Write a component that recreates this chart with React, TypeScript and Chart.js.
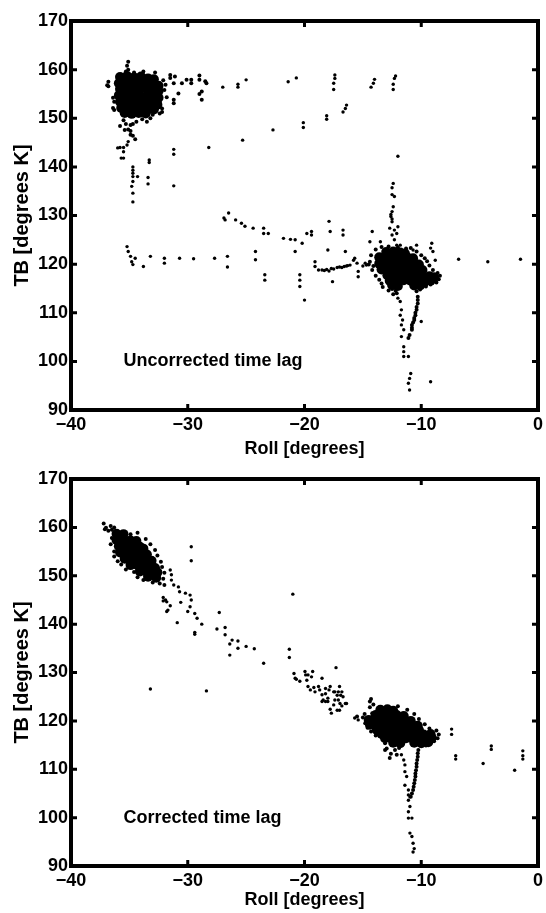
import React, { useEffect, useRef } from 'react';
import { Chart, registerables } from 'chart.js';

Chart.register(...registerables);

type P = [number, number];

// ---------- axes / text ----------
const xTicks = [-40, -30, -20, -10, 0];
const yTicks = [90, 100, 110, 120, 130, 140, 150, 160, 170];
const xTitle = 'Roll [degrees]';
const yTitle = 'TB [degrees K]';
const topLabel = 'Uncorrected time lag';
const bottomLabel = 'Corrected time lag';
const labelAt: P = [-35.5, 100];

// ---------- TOP: uncorrected time lag ----------
const topWarmCore: P[] = [
  [-35.8, 158.5], [-35.2, 158.7], [-34.6, 158.4], [-34.0, 158.6], [-33.4, 158.2], [-32.9, 158.0],
  [-35.9, 157.2], [-35.3, 157.4], [-34.7, 157.1], [-34.1, 157.3], [-33.5, 156.9], [-32.9, 157.1], [-32.5, 156.7],
  [-35.8, 156.0], [-35.2, 156.1], [-34.6, 155.9], [-34.0, 156.1], [-33.4, 155.8], [-32.9, 155.9], [-32.5, 155.6],
  [-35.9, 154.7], [-35.3, 154.8], [-34.7, 154.6], [-34.1, 154.7], [-33.5, 154.5], [-32.9, 154.6], [-32.5, 154.2],
  [-35.8, 153.4], [-35.2, 153.5], [-34.6, 153.3], [-34.0, 153.4], [-33.4, 153.2], [-32.9, 153.1], [-32.6, 152.8],
  [-35.7, 152.1], [-35.1, 152.2], [-34.5, 152.0], [-33.9, 152.1], [-33.3, 151.9], [-32.9, 151.8],
  [-35.4, 151.1], [-34.8, 150.9], [-34.2, 151.1], [-33.6, 151.0],
];
const topColdCore: P[] = [
  [-13.0, 122.5], [-12.4, 122.6], [-11.8, 122.4], [-11.4, 122.2],
  [-13.6, 121.4], [-13.0, 121.5], [-12.4, 121.4], [-11.8, 121.3], [-11.2, 121.4], [-10.7, 121.2],
  [-13.6, 120.1], [-13.0, 120.3], [-12.4, 120.1], [-11.8, 120.2], [-11.2, 120.0], [-10.6, 120.2], [-10.2, 119.9],
  [-13.4, 118.9], [-12.8, 118.8], [-12.2, 119.0], [-11.6, 118.8], [-11.0, 118.9], [-10.4, 118.7], [-9.9, 118.8],
  [-12.9, 117.7], [-12.3, 117.6], [-11.7, 117.8], [-11.1, 117.6], [-10.5, 117.7], [-9.9, 117.6], [-9.3, 117.5], [-8.9, 117.3],
  [-12.7, 116.6], [-12.1, 116.5], [-11.5, 116.7], [-10.9, 116.6], [-10.3, 116.5], [-9.7, 116.4], [-9.2, 116.6],
  [-12.5, 115.7], [-12.0, 115.5], [-10.6, 115.6], [-10.1, 115.6],
];
const topFringe: P[] = [
  [-36.8, 156.6], [-36.9, 156.8], [-36.8, 157.5], [-36.4, 154.2], [-36.3, 153.4], [-36.4, 152.1], [-36.3, 151.7],
  [-35.1, 161.6], [-35.2, 160.8], [-35.1, 160.0], [-35.3, 159.6], [-34.6, 159.4],
  [-33.8, 159.6], [-32.8, 159.4], [-31.5, 158.9], [-31.5, 158.3], [-31.1, 158.6], [-31.2, 157.2], [-30.5, 157.2],
  [-30.1, 157.9], [-29.7, 157.9], [-29.7, 157.2], [-29.0, 158.8], [-29.0, 157.9], [-28.5, 157.6], [-28.4, 157.2],
  [-28.8, 155.5], [-29.0, 155.0], [-28.8, 153.8], [-30.8, 155.1], [-31.2, 153.8], [-31.2, 153.1], [-31.8, 154.3],
  [-32.2, 152.0], [-32.2, 151.3], [-32.0, 155.8], [-31.9, 156.9], [-32.1, 157.8],
  [-35.5, 149.6], [-35.3, 148.8], [-34.9, 148.6], [-34.7, 148.8], [-34.4, 149.3], [-33.9, 149.8], [-33.5, 149.3],
  [-33.2, 150.0], [-32.4, 151.0], [-33.0, 150.7],
  [-35.4, 147.6], [-35.1, 147.7], [-34.9, 147.4], [-34.9, 146.6], [-34.7, 146.4], [-34.5, 145.7], [-35.8, 148.4],
  [-14.3, 121.8], [-14.4, 120.5], [-14.1, 119.6], [-14.5, 119.9], [-14.2, 118.8], [-13.9, 117.6], [-13.6, 116.8],
  [-13.4, 116.0], [-13.3, 115.3], [-13.9, 123.0], [-13.4, 123.5], [-12.8, 123.6], [-12.0, 123.4], [-11.3, 123.2],
  [-10.9, 123.3], [-10.4, 122.6], [-10.0, 121.8], [-9.7, 121.2], [-9.5, 120.6], [-9.3, 119.7], [-9.0, 118.8],
  [-8.6, 118.2], [-8.4, 117.6], [-8.5, 116.9], [-8.7, 116.2], [-9.2, 115.8], [-9.6, 115.4],
  [-12.8, 114.6], [-12.5, 114.9], [-12.2, 114.5], [-12.4, 113.8], [-12.1, 114.0], [-10.4, 114.4], [-10.1, 114.8],
  [-10.3, 113.3], [-10.3, 112.6], [-10.3, 111.9], [-10.4, 111.2], [-10.4, 110.6], [-10.5, 110.0], [-10.5, 109.5],
  [-10.6, 108.9], [-10.6, 108.5], [-10.7, 108.0], [-10.8, 107.5], [-10.8, 106.9], [-10.8, 106.5], [-11.0, 105.4],
  [-11.1, 104.8],
];
const topSparse: P[] = [
  // scatter below warm cluster
  [-35.8, 144.0], [-35.5, 144.0], [-35.5, 143.1], [-35.5, 141.8], [-35.2, 144.5], [-35.1, 145.2], [-36.0, 143.9],
  [-35.7, 141.8], [-34.7, 140.0], [-34.7, 139.3], [-34.7, 138.7], [-34.7, 138.0], [-34.7, 137.0], [-34.3, 138.0],
  [-34.7, 134.6], [-34.7, 132.8], [-34.8, 136.0], [-33.3, 141.4], [-33.3, 140.9], [-33.4, 137.8], [-33.4, 136.5],
  // trail near 157 K
  [-27.0, 156.4], [-25.7, 157.0], [-25.7, 156.4], [-25.0, 157.9], [-21.4, 157.5], [-20.7, 158.3],
  [-17.4, 158.9], [-17.4, 158.2], [-17.5, 157.2], [-17.5, 155.9], [-14.0, 158.0], [-14.3, 156.4], [-14.1, 157.2],
  [-12.2, 158.7], [-12.3, 158.2], [-12.4, 157.0], [-12.4, 155.9],
  // rising trail
  [-16.4, 152.7], [-16.7, 151.3], [-16.5, 152.0], [-18.1, 150.5], [-18.1, 149.8], [-20.1, 149.1], [-20.1, 148.1],
  [-22.7, 147.6], [-25.3, 145.5], [-28.2, 144.0], [-31.2, 143.6], [-31.2, 142.6], [-31.2, 136.1], [-12.0, 142.2],
  // descending trail 130 -> 124
  [-26.9, 129.5], [-26.8, 129.1], [-26.5, 130.5], [-25.9, 129.1], [-25.4, 128.4], [-25.1, 127.8], [-24.4, 127.4],
  [-23.5, 127.4], [-23.5, 126.3], [-23.1, 126.3], [-21.8, 125.3], [-21.2, 125.1], [-20.8, 125.0], [-20.2, 124.3],
  [-19.8, 126.3], [-19.4, 126.7], [-19.4, 126.0], [-17.8, 126.7], [-16.7, 127.0], [-16.7, 126.0], [-17.9, 128.8],
  [-14.2, 126.7], [-14.4, 124.6], [-13.5, 124.6], [-20.8, 122.6], [-18.0, 122.9], [-16.5, 122.6],
  // trail near 121 K
  [-35.2, 123.6], [-35.1, 122.6], [-34.9, 121.6], [-34.8, 120.5], [-34.7, 119.9], [-34.5, 121.2], [-33.8, 119.5],
  [-33.2, 121.6], [-32.0, 121.2], [-32.0, 120.2], [-30.7, 121.2], [-29.5, 121.1], [-27.7, 121.2], [-26.6, 121.6],
  [-26.6, 119.4], [-24.2, 122.6], [-24.2, 120.9], [-23.4, 117.8], [-23.4, 116.7], [-20.4, 117.8], [-20.4, 116.7],
  [-20.4, 115.4], [-17.6, 116.4], [-20.0, 112.6],
  // streak near 119 K
  [-19.1, 120.5], [-19.1, 119.5], [-18.8, 118.8], [-18.5, 118.8], [-18.3, 118.7], [-18.1, 118.9], [-17.9, 118.6],
  [-17.7, 119.1], [-17.5, 119.0], [-17.2, 119.3], [-17.0, 119.4], [-16.8, 119.3], [-16.6, 119.5], [-16.4, 119.6],
  [-16.3, 119.7], [-16.1, 119.8], [-15.8, 120.8], [-15.7, 121.2], [-15.5, 120.2], [-15.4, 118.5], [-15.4, 117.4],
  [-15.0, 119.6], [-14.8, 120.2], [-14.7, 119.8],
  // around cold cluster
  [-9.1, 124.3], [-9.2, 123.3], [-9.0, 122.6], [-8.8, 120.8], [-10.4, 123.9], [-10.7, 122.9], [-11.25, 122.9], [-11.8, 123.9],
  [-12.4, 136.6], [-12.5, 135.7], [-12.5, 134.3], [-12.3, 133.9], [-12.4, 131.8], [-12.5, 130.8], [-12.6, 130.2],
  [-12.6, 129.8], [-12.5, 129.3], [-12.5, 128.7], [-12.0, 127.7], [-12.7, 127.4], [-12.3, 127.0], [-12.1, 126.3],
  [-12.5, 126.0], [-12.3, 125.0], [-12.1, 123.9],
  [-6.8, 121.0], [-4.3, 120.5], [-1.5, 121.0],
  // tail
  [-12.0, 113.0], [-11.8, 112.3], [-11.7, 110.6], [-11.8, 109.5], [-11.6, 108.5], [-11.7, 107.5], [-11.5, 106.5],
  [-11.7, 105.1], [-11.5, 103.0], [-11.5, 102.0], [-11.5, 101.0], [-11.1, 101.0], [-10.9, 97.5], [-11.0, 96.5],
  [-11.1, 95.5], [-11.0, 94.1], [-10.0, 108.2], [-9.2, 95.8],
];

// ---------- BOTTOM: corrected time lag ----------
const botWarmCore: P[] = [
  [-36.1, 158.7], [-35.5, 158.6],
  [-36.1, 157.4], [-35.5, 157.5], [-34.9, 157.3], [-34.4, 157.2],
  [-35.9, 156.1], [-35.3, 156.2], [-34.7, 156.0], [-34.1, 156.0], [-33.8, 155.6],
  [-35.8, 154.8], [-35.2, 154.9], [-34.6, 154.7], [-34.0, 154.7], [-33.5, 154.4],
  [-35.4, 153.5], [-34.8, 153.6], [-34.2, 153.4], [-33.6, 153.4], [-33.1, 153.1],
  [-34.9, 152.2], [-34.3, 152.2], [-33.7, 152.0], [-33.1, 152.0], [-32.8, 151.6],
  [-34.1, 150.9], [-33.5, 150.8], [-32.9, 150.6], [-32.6, 150.7],
  [-33.4, 149.8], [-32.7, 149.6],
];
const botColdCore: P[] = [
  [-13.5, 122.3], [-12.9, 122.4], [-12.4, 122.1],
  [-13.9, 121.2], [-13.3, 121.3], [-12.7, 121.1], [-12.1, 121.2], [-11.5, 121.0],
  [-14.5, 120.2], [-13.9, 120.1], [-13.3, 120.3], [-12.7, 120.2], [-12.1, 120.1], [-11.5, 120.2], [-10.9, 120.0],
  [-14.4, 119.2], [-13.8, 119.1], [-13.2, 119.3], [-12.6, 119.1], [-12.0, 119.2], [-11.4, 119.0], [-10.8, 119.2], [-10.3, 119.0],
  [-13.8, 118.1], [-13.2, 118.2], [-12.6, 118.0], [-12.0, 118.1], [-11.4, 118.2], [-10.8, 118.0], [-10.2, 118.1],
  [-13.4, 117.3], [-12.8, 117.4], [-12.2, 117.2], [-11.6, 117.4], [-11.0, 117.3], [-10.4, 117.4], [-9.8, 117.2], [-9.2, 117.3],
  [-13.1, 116.4], [-12.5, 116.3], [-11.9, 116.5], [-11.3, 116.4], [-10.7, 116.3], [-10.1, 116.5], [-9.5, 116.3], [-9.1, 116.5],
  [-12.4, 115.5], [-11.8, 115.4], [-10.6, 115.5], [-10.0, 115.4], [-9.4, 115.6],
];
const botFringe: P[] = [
  [-37.2, 160.8], [-37.0, 159.9], [-36.8, 159.3], [-36.6, 160.3], [-36.5, 159.5], [-36.3, 160.0], [-37.1, 159.6],
  [-36.5, 157.8], [-36.6, 156.5], [-36.3, 155.0], [-36.3, 154.0], [-36.0, 153.0], [-35.7, 152.3], [-35.3, 151.3],
  [-34.6, 150.8], [-34.3, 149.7], [-33.8, 149.1],
  [-34.9, 158.6], [-34.3, 158.9], [-33.6, 157.6], [-33.2, 156.5], [-32.8, 155.3], [-32.6, 154.2], [-32.3, 152.9],
  [-32.2, 151.8], [-32.0, 150.6], [-32.1, 149.4], [-33.0, 148.6], [-32.4, 148.4], [-32.0, 148.1],
  [-15.5, 120.9], [-15.0, 120.7], [-14.85, 121.4], [-14.3, 124.5], [-14.1, 123.4], [-14.4, 122.8], [-14.4, 124.0],
  [-14.2, 121.6], [-14.8, 119.5], [-14.6, 118.6], [-14.3, 117.8], [-13.9, 117.0],
  [-13.1, 115.4], [-12.96, 114.3], [-12.7, 112.3], [-13.1, 114.0], [-12.25, 114.0], [-12.1, 113.0], [-12.6, 113.2],
  [-11.9, 114.4], [-12.0, 123.0], [-11.2, 122.3], [-10.6, 121.4], [-10.2, 120.4], [-9.7, 119.3], [-9.3, 118.4],
  [-8.7, 118.0], [-8.5, 117.2], [-8.6, 116.4], [-8.9, 115.8], [-9.6, 114.9],
  [-10.25, 114.0], [-10.3, 113.3], [-10.3, 112.6], [-10.35, 111.9], [-10.4, 111.2], [-10.4, 110.5], [-10.45, 109.8],
  [-10.5, 109.1], [-10.5, 108.5], [-10.55, 107.8], [-10.6, 107.1], [-10.65, 106.4], [-10.7, 105.7], [-10.8, 105.0],
  [-10.9, 104.3],
];
const botSparse: P[] = [
  [-31.5, 151.2], [-31.4, 150.2], [-31.4, 149.1], [-31.2, 148.1], [-30.8, 147.7], [-30.7, 146.7],
  [-31.9, 145.0], [-31.8, 144.6], [-31.7, 142.9], [-31.8, 142.6],
  [-30.2, 146.4], [-29.8, 146.0], [-29.7, 145.0], [-29.8, 143.6], [-30.0, 142.6], [-29.4, 142.2], [-29.2, 141.2],
  [-30.6, 144.5], [-32.1, 145.5], [-32.1, 144.8], [-31.5, 143.8], [-30.9, 140.3], [-29.4, 138.3], [-29.4, 137.9],
  [-28.8, 140.0], [-29.7, 156.0], [-29.7, 153.1],
  [-27.5, 139.0], [-27.3, 142.4], [-26.8, 139.3], [-26.8, 137.8], [-26.4, 135.9], [-26.2, 136.7], [-25.7, 136.5],
  [-25.7, 135.0], [-25.0, 135.4], [-26.4, 133.6], [-24.3, 134.9], [-23.5, 131.9], [-21.3, 134.8], [-21.3, 133.1],
  [-17.3, 131.0], [-21.0, 146.2], [-33.2, 126.6], [-28.4, 126.2],
  [-20.9, 129.8], [-20.8, 128.8], [-20.7, 128.6], [-20.4, 128.2], [-19.96, 130.2], [-19.9, 129.5], [-19.7, 129.5],
  [-19.8, 128.4], [-19.3, 130.2], [-19.4, 129.1], [-18.5, 128.8], [-19.7, 127.1], [-19.5, 126.4], [-19.2, 126.9],
  [-19.1, 126.0], [-18.8, 127.1], [-18.7, 126.4], [-18.5, 125.4], [-18.2, 126.7], [-18.2, 125.6], [-17.9, 126.4],
  [-18.0, 124.7], [-17.8, 127.1], [-17.5, 126.0], [-17.4, 126.0], [-17.2, 125.3], [-17.1, 126.0], [-17.1, 124.3],
  [-17.0, 127.1], [-16.9, 125.3], [-16.96, 123.6], [-16.8, 123.1], [-17.4, 124.3], [-17.5, 123.3], [-17.8, 122.4],
  [-18.0, 124.0], [-18.2, 124.0], [-18.5, 124.0], [-18.4, 124.3], [-16.8, 126.0], [-16.7, 125.0], [-16.5, 123.6],
  [-16.4, 123.6], [-17.2, 122.2], [-17.0, 122.2], [-17.7, 121.6], [-15.7, 120.6], [-15.4, 120.2],
  [-11.7, 113.0], [-11.5, 111.9], [-11.4, 110.9], [-11.4, 109.5], [-11.25, 108.5], [-11.4, 106.7], [-11.1, 105.7],
  [-10.97, 104.3], [-11.1, 103.6], [-10.97, 102.3], [-11.1, 101.2], [-11.1, 99.9], [-10.8, 99.9], [-10.97, 96.8],
  [-10.8, 96.1], [-10.7, 94.7], [-10.6, 93.6], [-10.7, 92.9], [-11.1, 104.7],
  [-7.4, 118.3], [-7.4, 117.2], [-7.05, 112.8], [-7.05, 112.1], [-4.0, 114.8], [-4.0, 114.1], [-4.7, 111.2],
  [-2.0, 109.8], [-1.3, 113.8], [-1.3, 112.8], [-1.3, 112.1],
];

// ---------- drawing ----------
const FONT = '"Liberation Sans", Arial, Helvetica, sans-serif';

const framePlugin = {
  id: 'frame',
  afterDatasetsDraw(chart: any, _args: any, opts: any) {
    const { ctx, chartArea, scales } = chart;
    const { left, right, top, bottom } = chartArea;
    const xs = scales.x;
    const ys = scales.y;
    ctx.save();
    ctx.strokeStyle = '#000';
    ctx.lineWidth = 4;
    ctx.strokeRect(left, top, right - left, bottom - top);
    ctx.lineWidth = 3;
    ctx.beginPath();
    xs.ticks.forEach((t: any) => {
      const px = xs.getPixelForValue(t.value);
      ctx.moveTo(px, bottom);
      ctx.lineTo(px, bottom - 6);
      ctx.moveTo(px, top);
      ctx.lineTo(px, top + 6);
    });
    ys.ticks.forEach((t: any) => {
      const py = ys.getPixelForValue(t.value);
      ctx.moveTo(left, py);
      ctx.lineTo(left + 6, py);
      ctx.moveTo(right, py);
      ctx.lineTo(right - 6, py);
    });
    ctx.stroke();
    ctx.fillStyle = '#000';
    ctx.font = `bold 18px ${FONT}`;
    ctx.textAlign = 'left';
    ctx.textBaseline = 'middle';
    ctx.fillText(opts.text, xs.getPixelForValue(labelAt[0]), ys.getPixelForValue(labelAt[1]));
    ctx.restore();
  },
};

const toXY = (arr: P[]) => arr.map(([x, y]) => ({ x, y }));

function buildChart(
  canvas: HTMLCanvasElement,
  cores: P[][],
  fringe: P[],
  sparse: P[],
  text: string,
  padTop: number,
  xAxisHeight: number,
) {
  const tickFont = { family: FONT, size: 18, weight: 'bold' as const };
  const yTitleFont = { family: FONT, size: 20, weight: 'bold' as const };
  const ds = (arr: P[], r: number) => ({
    data: toXY(arr),
    pointRadius: r,
    pointHoverRadius: r,
    pointBorderWidth: 0,
    backgroundColor: '#000',
    borderColor: '#000',
  });
  return new Chart(canvas, {
    type: 'scatter',
    data: {
      datasets: [
        ...cores.map((c) => ds(c, 5)),
        ds(fringe, 2.0),
        ds(sparse, 1.7),
      ],
    },
    plugins: [framePlugin],
    options: {
      responsive: false,
      animation: false,
      events: [],
      layout: { padding: { top: padTop, right: 8, left: 0, bottom: 0 } },
      plugins: {
        legend: { display: false },
        tooltip: { enabled: false },
        // @ts-ignore
        frame: { text },
      },
      scales: {
        x: {
          type: 'linear',
          min: -40,
          max: 0,
          afterBuildTicks: (s: any) => {
            s.ticks = xTicks.map((v) => ({ value: v }));
          },
          afterFit: (s: any) => {
            s.height = xAxisHeight;
            s.paddingLeft = 0;
            s.paddingRight = 0;
          },
          grid: { display: false, drawTicks: false, tickLength: 0 },
          border: { display: false },
          ticks: {
            color: '#000',
            font: tickFont,
            padding: 4,
            maxRotation: 0,
            autoSkip: false,
            callback: (v: any) => (Number(v) < 0 ? '\u2212' + Math.abs(Number(v)) : String(v)),
          },
          title: {
            display: true,
            text: xTitle,
            color: '#000',
            font: tickFont,
            padding: { top: 0, bottom: 2 },
          },
        },
        y: {
          type: 'linear',
          min: 90,
          max: 170,
          afterBuildTicks: (s: any) => {
            s.ticks = yTicks.map((v) => ({ value: v }));
          },
          afterFit: (s: any) => {
            s.width = 71;
            s.paddingTop = 0;
            s.paddingBottom = 0;
          },
          grid: { display: false, drawTicks: false, tickLength: 0 },
          border: { display: false },
          ticks: {
            color: '#000',
            font: tickFont,
            padding: 3,
            autoSkip: false,
            callback: (v: any) => String(v),
          },
          title: {
            display: true,
            text: yTitle,
            color: '#000',
            font: yTitleFont,
            padding: { top: 10, bottom: 0 },
          },
        },
      },
    },
  } as any);
}

export default function App() {
  const topRef = useRef<HTMLCanvasElement>(null);
  const botRef = useRef<HTMLCanvasElement>(null);

  useEffect(() => {
    const charts: Chart[] = [];
    if (topRef.current) {
      charts.push(
        buildChart(topRef.current, [topWarmCore, topColdCore], topFringe, topSparse, topLabel, 21, 52),
      );
    }
    if (botRef.current) {
      charts.push(
        buildChart(botRef.current, [botWarmCore, botColdCore], botFringe, botSparse, bottomLabel, 17, 47),
      );
    }
    return () => charts.forEach((c) => c.destroy());
  }, []);

  return (
    <div style={{ position: 'absolute', left: 0, top: 0, width: 546, height: 913, background: '#fff' }}>
      <canvas
        ref={topRef}
        width={546}
        height={462}
        style={{ position: 'absolute', left: 0, top: 0, width: 546, height: 462 }}
      />
      <canvas
        ref={botRef}
        width={546}
        height={451}
        style={{ position: 'absolute', left: 0, top: 462, width: 546, height: 451 }}
      />
    </div>
  );
}
